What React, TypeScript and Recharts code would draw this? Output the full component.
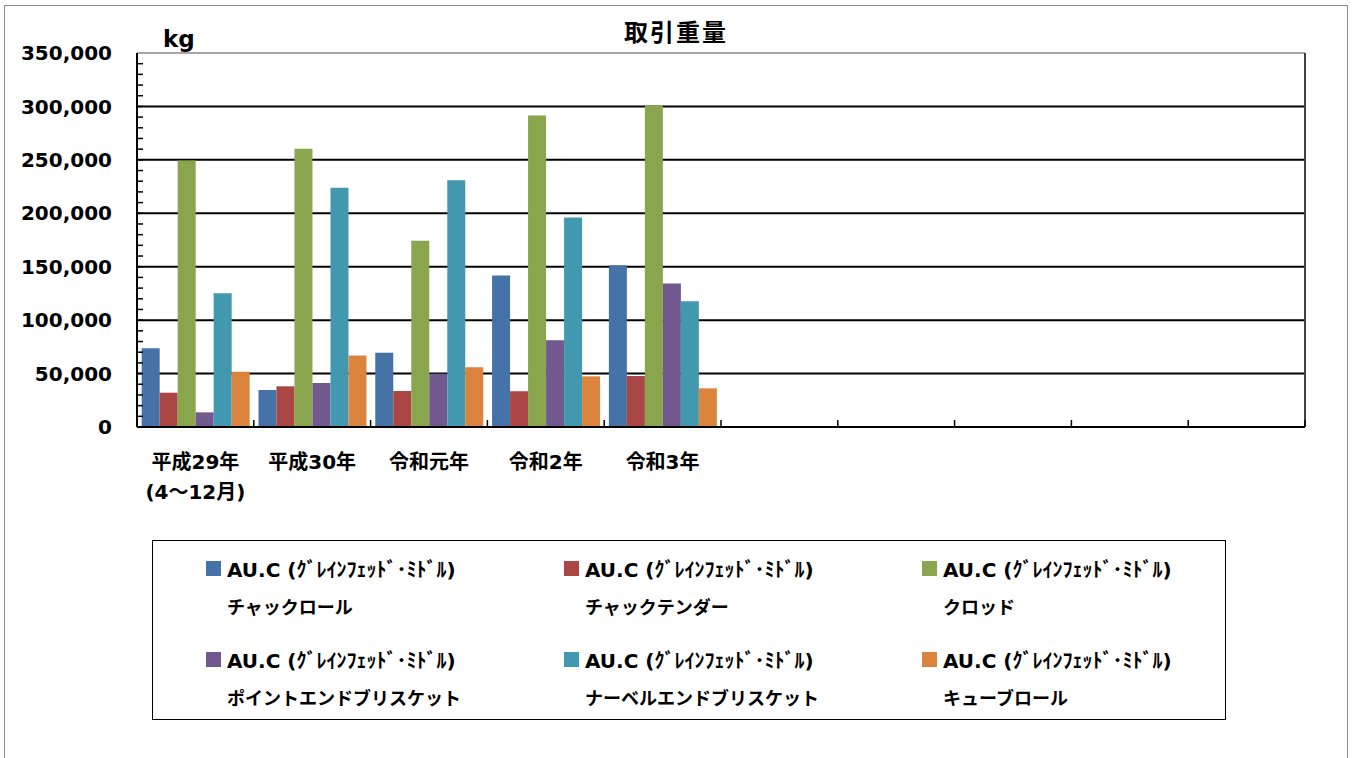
import React from "react";
import { BarChart, Bar, XAxis, YAxis, CartesianGrid, ReferenceLine, Legend } from "recharts";

// 年度（後半5つは空欄）
const categories = ["平成29年\n(4～12月)", "平成30年", "令和元年", "令和2年", "令和3年", "", "", "", "", ""];

// 取引重量 (kg)
const chuckRoll = [73700, 34600, 69600, 141700, 151400];
const chuckTender = [32100, 38100, 33700, 33400, 47800];
const clod = [249500, 260300, 174200, 291500, 301200];
const pointEndBrisket = [13700, 41200, 49800, 81100, 134200];
const navelEndBrisket = [125200, 223800, 231000, 196000, 117700];
const cubeRoll = [51800, 66800, 55900, 47400, 36200];

const seriesNames = [
  "AU.C (ｸﾞﾚｲﾝﾌｪｯﾄﾞ･ﾐﾄﾞﾙ)\nチャックロール",
  "AU.C (ｸﾞﾚｲﾝﾌｪｯﾄﾞ･ﾐﾄﾞﾙ)\nチャックテンダー",
  "AU.C (ｸﾞﾚｲﾝﾌｪｯﾄﾞ･ﾐﾄﾞﾙ)\nクロッド",
  "AU.C (ｸﾞﾚｲﾝﾌｪｯﾄﾞ･ﾐﾄﾞﾙ)\nポイントエンドブリスケット",
  "AU.C (ｸﾞﾚｲﾝﾌｪｯﾄﾞ･ﾐﾄﾞﾙ)\nナーベルエンドブリスケット",
  "AU.C (ｸﾞﾚｲﾝﾌｪｯﾄﾞ･ﾐﾄﾞﾙ)\nキューブロール",
];
const colors = ["#4572A7", "#AA4643", "#89A54E", "#71588F", "#4198AF", "#DB843D"];

const yTicks = [
  0, 10000, 20000, 30000, 40000, 50000, 60000, 70000, 80000, 90000, 100000, 110000, 120000,
  130000, 140000, 150000, 160000, 170000, 180000, 190000, 200000, 210000, 220000, 230000,
  240000, 250000, 260000, 270000, 280000, 290000, 300000, 310000, 320000, 330000, 340000, 350000,
];
const gridValues = [50000, 100000, 150000, 200000, 250000, 300000];

const seriesValues = [chuckRoll, chuckTender, clod, pointEndBrisket, navelEndBrisket, cubeRoll];
const data = categories.map((label, i) => {
  const row: Record<string, string | number | null> = { key: `c${i}`, label };
  seriesValues.forEach((vals, s) => {
    row[`s${s}`] = vals[i] ?? null;
  });
  return row;
});

const FONT = '"DejaVu Sans", "Noto Sans CJK JP", sans-serif';
const PLOT_LEFT = 137;
const PLOT_RIGHT = 1305;
const HALF_BAND = (PLOT_RIGHT - PLOT_LEFT) / categories.length / 2;

function YTick(props: any) {
  const { x, y, payload } = props;
  const v = payload.value as number;
  return (
    <g>
      {v > 0 && v < 350000 && <line x1={x} x2={x + 6} y1={y} y2={y} stroke="#000" strokeWidth={1.5} />}
      {v % 50000 === 0 && (
        <text x={x - 25} y={y} dy="0.36em" textAnchor="end" fontFamily={FONT} fontWeight="bold" fontSize={20} fill="#000">
          {v.toLocaleString("en-US")}
        </text>
      )}
    </g>
  );
}

function XTick(props: any) {
  const { x, y, index } = props;
  const lines = (categories[index] ?? "").split("\n").filter((l) => l !== "");
  return (
    <g>
      <line x1={x + HALF_BAND} x2={x + HALF_BAND} y1={y} y2={y - 7} stroke="#000" strokeWidth={1.5} />
      {lines.map((l, i) => (
        <text key={i} x={x} y={y + 35 + i * 30} dy="0.36em" textAnchor="middle" fontFamily={FONT} fontWeight="bold" fontSize={20} fill="#000">
          {l}
        </text>
      ))}
    </g>
  );
}

function LegendBox(props: any) {
  const payload = props.payload ?? [];
  return (
    <div
      style={{
        boxSizing: "border-box",
        width: 1074,
        height: 180,
        border: "1px solid #000",
        padding: "7.5px 0 0 53px",
        display: "grid",
        gridTemplateColumns: "358px 358px 358px",
        rowGap: 13,
        fontFamily: FONT,
        fontWeight: "bold",
        color: "#000",
        textAlign: "left",
      }}
    >
      {payload.map((p: any, i: number) => {
        const [l1, l2] = String(p.value).split("\n");
        return (
          <div key={i}>
            <div style={{ display: "flex", alignItems: "center", height: 39, whiteSpace: "nowrap", fontSize: 20 }}>
              <span style={{ display: "inline-block", width: 15, height: 15, background: p.color, marginRight: 6 }} />
              {l1}
            </div>
            <div style={{ height: 39, lineHeight: "39px", paddingLeft: 21, whiteSpace: "nowrap", fontSize: 18 }}>{l2}</div>
          </div>
        );
      })}
    </div>
  );
}

export default function App() {
  return (
    <div style={{ position: "absolute", left: 0, top: 0, width: 1354, height: 758, background: "#fff", overflow: "hidden" }}>
      <div style={{ position: "absolute", left: 4, top: 5, width: 1342, height: 800, border: "1px solid #888" }} />
      <div
        style={{
          position: "absolute",
          left: 575,
          top: 19,
          width: 202,
          textAlign: "center",
          fontFamily: FONT,
          fontWeight: "bold",
          fontSize: 24,
          letterSpacing: 2,
          lineHeight: "28px",
          zIndex: 2,
        }}
      >
        取引重量
      </div>
      <div style={{ position: "absolute", left: 163, top: 26, fontFamily: FONT, fontWeight: "bold", fontSize: 23, lineHeight: "26px", zIndex: 2 }}>
        kg
      </div>
      <BarChart
        width={1354}
        height={758}
        data={data}
        margin={{ top: 53, right: 48, bottom: 301, left: 0 }}
        barCategoryGap="4%"
        barGap={0}
      >
        <CartesianGrid vertical={false} horizontalValues={gridValues} stroke="#000" strokeWidth={2} />
        <ReferenceLine y={350000} stroke="#888" strokeWidth={1.5} />
        <XAxis
          dataKey="key"
          height={30}
          interval={0}
          tickSize={0}
          tickMargin={0}
          tick={<XTick />}
          axisLine={{ stroke: "#000", strokeWidth: 2 }}
          tickLine={false}
        />
        <YAxis
          width={137}
          domain={[0, 350000]}
          ticks={yTicks}
          interval={0}
          tickSize={0}
          tickMargin={0}
          tick={<YTick />}
          axisLine={{ stroke: "#000", strokeWidth: 2 }}
          tickLine={false}
        />
        <YAxis yAxisId="r" orientation="right" width={1} domain={[0, 350000]} tick={false} tickLine={false} axisLine={{ stroke: "#404040", strokeWidth: 2 }} />
        <Legend
          layout="horizontal"
          verticalAlign="middle"
          align="center"
          itemSorter="dataKey"
          content={<LegendBox />}
          wrapperStyle={{ position: "absolute", left: 152, top: 540, width: 1074, height: 180 }}
        />
        {seriesNames.map((name, s) => (
          <Bar key={s} dataKey={`s${s}`} name={name} fill={colors[s]} isAnimationActive={false} />
        ))}
      </BarChart>
    </div>
  );
}
